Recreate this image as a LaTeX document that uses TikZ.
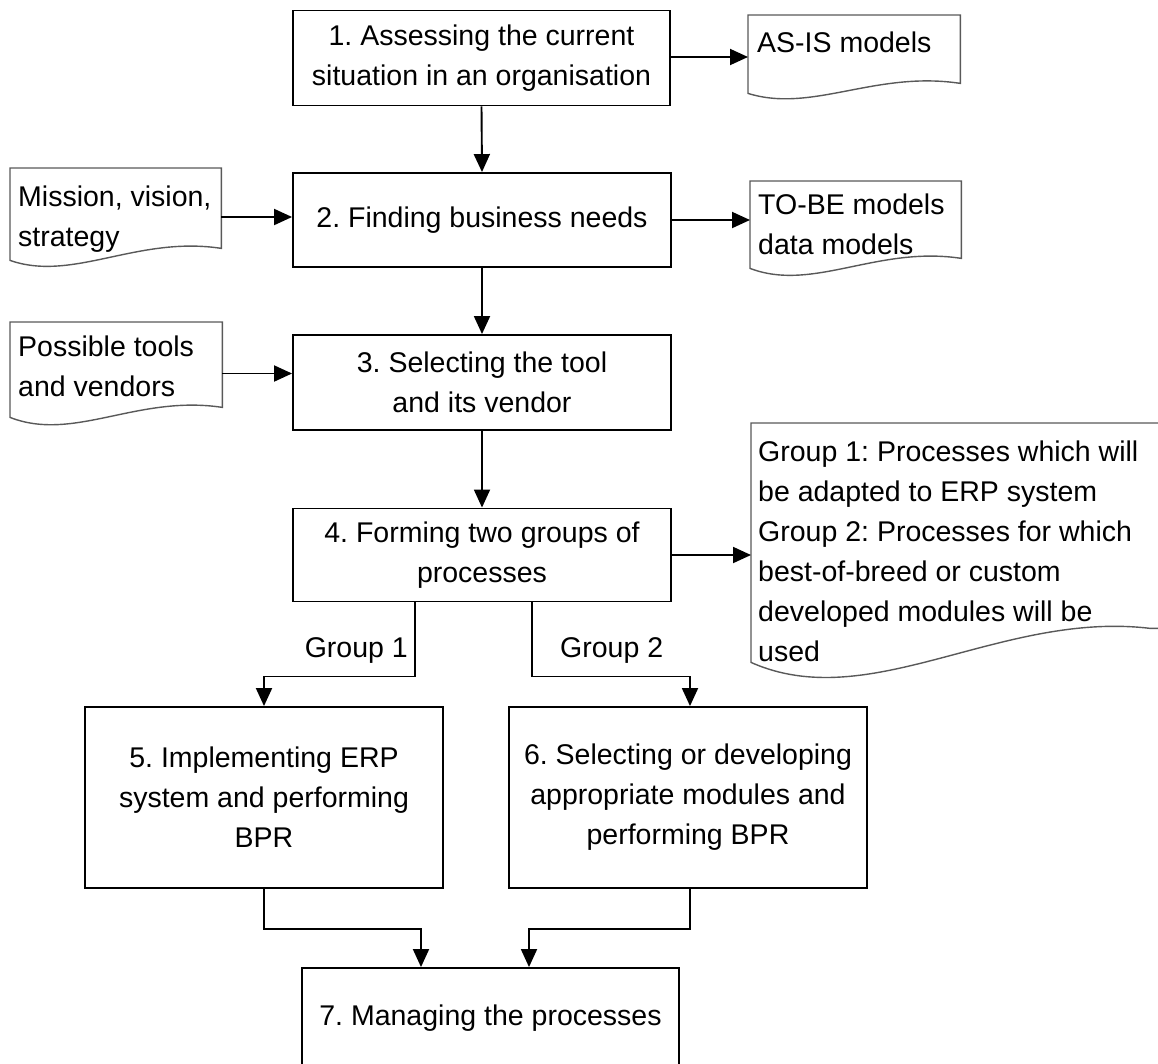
\documentclass[tikz,border=0pt]{standalone}
\usepackage{fontspec}
\setmainfont{Liberation Sans}
\usetikzlibrary{arrows.meta,calc}
\frenchspacing

\begin{document}
\begin{tikzpicture}[x=1pt,y=-1pt,
  every node/.style={font=\fontsize{28.5}{40}\selectfont},
  stepbox/.style={draw=black, line width=1.9pt, rectangle, inner sep=0pt, align=center, fill=white},
  docarea/.style={rectangle, inner sep=0pt, anchor=north west},
  docline/.style={draw=black!65, line width=1.4pt, fill=white},
  doctext/.style={anchor=north west, inner sep=0pt, align=left},
  grouplabel/.style={inner sep=0pt},
  arr/.style={line width=1.9pt, -{Triangle[length=18pt,width=16pt]}},
]
\useasboundingbox (0,0) rectangle (1158,1063);
\clip (0,0) rectangle (1158,1063);

% ---- document shapes (inputs and outputs) ----
\node[docarea, minimum width=212pt, minimum height=68pt] (asis) at (748,15) {};
\draw[docline] (asis.south east) -- (asis.north east) -- (asis.north west)
  -- ($(asis.south west)+(0,10)$) .. controls +(64,20) and +(-85,-13) .. (asis.south east) -- cycle;
\node[doctext] (asistext) at (757,32) {AS-IS models};

\node[docarea, minimum width=211pt, minimum height=80pt] (mission) at (10,168) {};
\draw[docline] (mission.south east) -- (mission.north east) -- (mission.north west)
  -- ($(mission.south west)+(0,12)$) .. controls +(63,22) and +(-84,-13) .. (mission.south east) -- cycle;
\node[doctext] (missiontext) at (18,186) {Mission, vision,\\strategy};

\node[docarea, minimum width=211pt, minimum height=77pt] (tobe) at (750,181) {};
\draw[docline] (tobe.south east) -- (tobe.north east) -- (tobe.north west)
  -- ($(tobe.south west)+(0,10)$) .. controls +(63,24) and +(-84,-13) .. (tobe.south east) -- cycle;
\node[doctext] (tobetext) at (758,194) {TO-BE models\\data models};

\node[docarea, minimum width=212pt, minimum height=85pt] (possible) at (10,322) {};
\draw[docline] (possible.south east) -- (possible.north east) -- (possible.north west)
  -- ($(possible.south west)+(0,10)$) .. controls +(64,25) and +(-85,-13) .. (possible.south east) -- cycle;
\node[doctext] (possibletext) at (18,336) {Possible tools\\and vendors};

\node[docarea, minimum width=419pt, minimum height=205pt] (group) at (751,423) {};
\draw[docline] (group.south east) -- (group.north east) -- (group.north west)
  -- ($(group.south west)+(0,34)$) .. controls +(119,53) and +(-150,-18) .. ($(group.south east)+(-20,0)$)
  -- (group.south east) -- cycle;
\node[doctext] (grouptext) at (758,441) {Group 1: Processes which will\\be adapted to ERP system\\Group 2: Processes for which\\best-of-breed or custom\\developed modules will be\\used};

% ---- process steps ----
\node[stepbox, minimum width=377pt, minimum height=95pt] (b1) at (481.5,58) {1. Assessing the current\\situation in an organisation};
\node[stepbox, minimum width=378pt, minimum height=94pt] (b2) at (482,220) {2. Finding business needs};
\node[stepbox, minimum width=378pt, minimum height=95pt] (b3) at (482,382.5) {3. Selecting the tool\\and its vendor};
\node[stepbox, minimum width=378pt, minimum height=93pt] (b4) at (482,555) {4. Forming two groups of\\processes};
\node[stepbox, minimum width=358pt, minimum height=181pt] (b5) at (264,797.5) {5. Implementing ERP\\system and performing\\BPR};
\node[stepbox, minimum width=358pt, minimum height=181pt] (b6) at (688,797.5) {6. Selecting or developing\\appropriate modules and\\performing BPR};
\node[stepbox, minimum width=377pt, minimum height=100pt] (b7) at (490.5,1018) {7. Managing the processes};

% ---- connectors ----
\draw[arr] (b1.south) -- (b2.north);
\draw[arr] (b2.south) -- (b3.north);
\draw[arr] (b3.south) -- (b4.north);

\draw[arr] ([yshift=1pt]b1.east) -- ([yshift=1pt]b1.east -| asis.west);
\draw[arr] ([yshift=3pt]b2.west -| mission.east) -- ([yshift=3pt]b2.west);
\draw[arr] (b2.east) -- (b2.east -| tobe.west);
\draw[arr] ([yshift=9pt]b3.west -| possible.east) -- ([yshift=9pt]b3.west);
\draw[arr] (b4.east) -- (b4.east -| group.west);

\draw[arr] ([xshift=-67pt]b4.south) -- ++(0,74) -| (b5.north);
\draw[arr] ([xshift=50pt]b4.south) -- ++(0,74) -| ([xshift=2pt]b6.north);
\node[grouplabel, anchor=base east] (g1label) at (408,657) {Group 1};
\node[grouplabel, anchor=base west] (g2label) at (560,657) {Group 2};

\draw[arr] (b5.south) -- ++(0,40) -| ([xshift=-69.5pt]b7.north);
\draw[arr] ([xshift=2pt]b6.south) -- ++(0,40) -| ([xshift=38.5pt]b7.north);
\end{tikzpicture}
\end{document}
